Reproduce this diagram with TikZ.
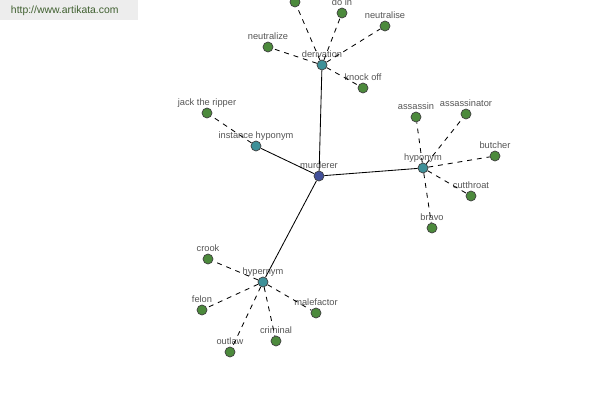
\documentclass[tikz,border=0pt]{standalone}
\usepackage{fontspec}
\setmainfont{Liberation Sans}
\usepackage{xcolor}
\usetikzlibrary{positioning}

\definecolor{rootblue}{HTML}{42509A}
\definecolor{hubteal}{HTML}{3E9098}
\definecolor{leafgreen}{HTML}{4C8A3C}
\definecolor{labelgray}{HTML}{555555}
\definecolor{markgreen}{HTML}{3F5F2F}

\begin{document}
\begin{tikzpicture}[
  x=0.025cm, y=-0.025cm,
  font=\fontsize{6.6}{7}\selectfont,
  dot/.style={circle, draw=black!75, line width=0.5pt, minimum size=0.25cm, inner sep=0pt},
  rootnode/.style={dot, fill=rootblue},
  hubnode/.style={dot, fill=hubteal},
  leafnode/.style={dot, fill=leafgreen},
  lbl/.style={text=labelgray, inner sep=0pt, text depth=0pt, text height=4.7pt},
  every label/.style={lbl},
  label distance=1pt,
  rel/.style={draw=black, line width=0.6pt},
  syn/.style={draw=black, line width=0.6pt, dash pattern=on 3.5pt off 3.5pt},
]
\useasboundingbox (0,0) rectangle (600,400);
\clip (0,0) rectangle (600,400);

% ---------- watermark ----------
\fill[black!7] (0,0) rectangle (138,20);
\node[text=markgreen, font=\fontsize{7.4}{8}\selectfont, anchor=west] (mark) at (6,10.5) {http://www.artikata.com};

% ---------- centre and relation hubs ----------
\node[rootnode, label=above:murderer] (murderer) at (319,176) {};
\node[hubnode, label=above:derivation] (deriv)    at (322,65)  {};
\node[hubnode, label=above:instance hyponym] (inst) at (256,146) {};
\node[hubnode, label=above:hyponym]  (hypo)       at (423,168) {};
\node[hubnode, label=above:hypernym] (hyper)      at (263,282) {};

% ---------- derivation ----------
\node[leafnode] (top)        at (295,2)  {};
\node[leafnode, label=above:do in]      (doin)       at (342,13) {};
\node[leafnode, label=above:neutralise] (neutralise) at (385,26) {};
\node[leafnode, label=above:neutralize] (neutralize) at (268,47) {};
\node[leafnode, label=above:knock off]  (knockoff)   at (363,88) {};

% ---------- instance hyponym ----------
\node[leafnode, label=above:jack the ripper] (jack) at (207,113) {};

% ---------- hyponym ----------
\node[leafnode, label=above:assassin]     (assassin)     at (416,117) {};
\node[leafnode, label=above:assassinator] (assassinator) at (466,114) {};
\node[leafnode, label=above:butcher]      (butcher)      at (495,156) {};
\node[leafnode, label=above:cutthroat]    (cutthroat)    at (471,196) {};
\node[leafnode, label=above:bravo]        (bravo)        at (432,228) {};

% ---------- hypernym ----------
\node[leafnode, label=above:crook]      (crook)      at (208,259) {};
\node[leafnode, label=above:felon]      (felon)      at (202,310) {};
\node[leafnode, label=above:outlaw]     (outlaw)     at (230,352) {};
\node[leafnode, label=above:criminal]   (criminal)   at (276,341) {};
\node[leafnode, label=above:malefactor] (malefactor) at (316,313) {};

% ---------- links ----------
\draw[rel] (murderer) -- (deriv);
\draw[rel] (murderer) -- (inst);
\draw[rel] (murderer) -- (hypo);
\draw[rel] (murderer) -- (hyper);

\draw[syn] (deriv) -- (top);
\draw[syn] (deriv) -- (doin);
\draw[syn] (deriv) -- (neutralise);
\draw[syn] (deriv) -- (neutralize);
\draw[syn] (deriv) -- (knockoff);

\draw[syn] (inst) -- (jack);

\draw[syn] (hypo) -- (assassin);
\draw[syn] (hypo) -- (assassinator);
\draw[syn] (hypo) -- (butcher);
\draw[syn] (hypo) -- (cutthroat);
\draw[syn] (hypo) -- (bravo);

\draw[syn] (hyper) -- (crook);
\draw[syn] (hyper) -- (felon);
\draw[syn] (hyper) -- (outlaw);
\draw[syn] (hyper) -- (criminal);
\draw[syn] (hyper) -- (malefactor);
\end{tikzpicture}
\end{document}
